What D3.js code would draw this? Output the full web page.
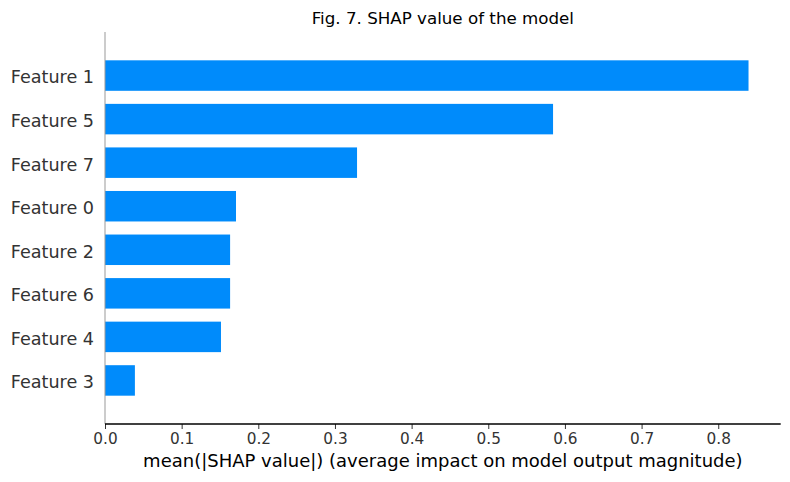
<!DOCTYPE html>
<html>
<head>
<meta charset="utf-8">
<script src="https://cdn.jsdelivr.net/npm/d3@7"></script>
<style>
  body { margin: 0; background: #fff; }
  text { font-family: "DejaVu Sans", sans-serif; }
</style>
</head>
<body>
<div id="chart"></div>
<script>
// features, top to bottom
const features = ["Feature 1", "Feature 5", "Feature 7", "Feature 0", "Feature 2", "Feature 6", "Feature 4", "Feature 3"];
// mean(|SHAP value|) per feature
const shapValues = [0.8395, 0.5845, 0.3288, 0.1709, 0.1632, 0.1632, 0.1513, 0.0390];
const xTicks = [0.0, 0.1, 0.2, 0.3, 0.4, 0.5, 0.6, 0.7, 0.8];

const width = 790, height = 482;
const margin = { top: 32, right: 9.3, bottom: 58, left: 105 };

let svg = d3.select("#chart").append("svg")
    .attr("width", width)
    .attr("height", height);

// matplotlib style: 5% margin past the largest bar
let x = d3.scaleLinear()
    .domain([0, d3.max(shapValues) * 1.05])
    .range([margin.left, width - margin.right]);

// bars sit on integer rows, axis runs from -1 to n
let y = d3.scaleLinear()
    .domain([-1, features.length])
    .range([margin.top, height - margin.bottom]);

const barH = 0.7;

svg.append("g")
    .selectAll("rect")
    .data(shapValues)
    .join("rect")
    .attr("x", x(0))
    .attr("y", (d, i) => y(i - barH / 2))
    .attr("width", d => x(d) - x(0))
    .attr("height", y(barH) - y(0))
    .attr("fill", "#008bfb");

// y labels
svg.append("g")
    .selectAll("text")
    .data(features)
    .join("text")
    .attr("x", margin.left - 11)
    .attr("y", (d, i) => y(i))
    .attr("dy", "0.45em")
    .attr("text-anchor", "end")
    .attr("font-size", "17.6px")
    .attr("fill", "#333333")
    .text(d => d);

// left spine
svg.append("line")
    .attr("x1", margin.left).attr("x2", margin.left)
    .attr("y1", margin.top).attr("y2", height - margin.bottom)
    .attr("stroke", "#999999")
    .attr("stroke-width", 1);

// bottom axis
let xAxis = d3.axisBottom(x)
    .tickValues(xTicks)
    .tickFormat(d3.format(".1f"))
    .tickSizeOuter(0)
    .tickSize(5)
    .tickPadding(4);

let gx = svg.append("g")
    .attr("transform", `translate(0,${height - margin.bottom})`)
    .call(xAxis);

gx.select(".domain").remove();
gx.append("line")
    .attr("x1", x.range()[0]).attr("x2", x.range()[1])
    .attr("stroke", "#000")
    .attr("stroke-width", 1.3);
gx.selectAll(".tick line").attr("stroke", "#333333");
gx.selectAll(".tick text")
    .attr("font-family", "DejaVu Sans")
    .attr("font-size", "15.3px")
    .attr("fill", "#333333");

// x label
svg.append("text")
    .attr("x", (margin.left + width - margin.right) / 2)
    .attr("y", 467)
    .attr("text-anchor", "middle")
    .attr("font-size", "18px")
    .attr("fill", "#000")
    .text("mean(|SHAP value|) (average impact on model output magnitude)");

// title
svg.append("text")
    .attr("x", (margin.left + width - margin.right) / 2)
    .attr("y", 24)
    .attr("text-anchor", "middle")
    .attr("font-size", "16.7px")
    .attr("fill", "#000")
    .text("Fig. 7. SHAP value of the model");
</script>
</body>
</html>
